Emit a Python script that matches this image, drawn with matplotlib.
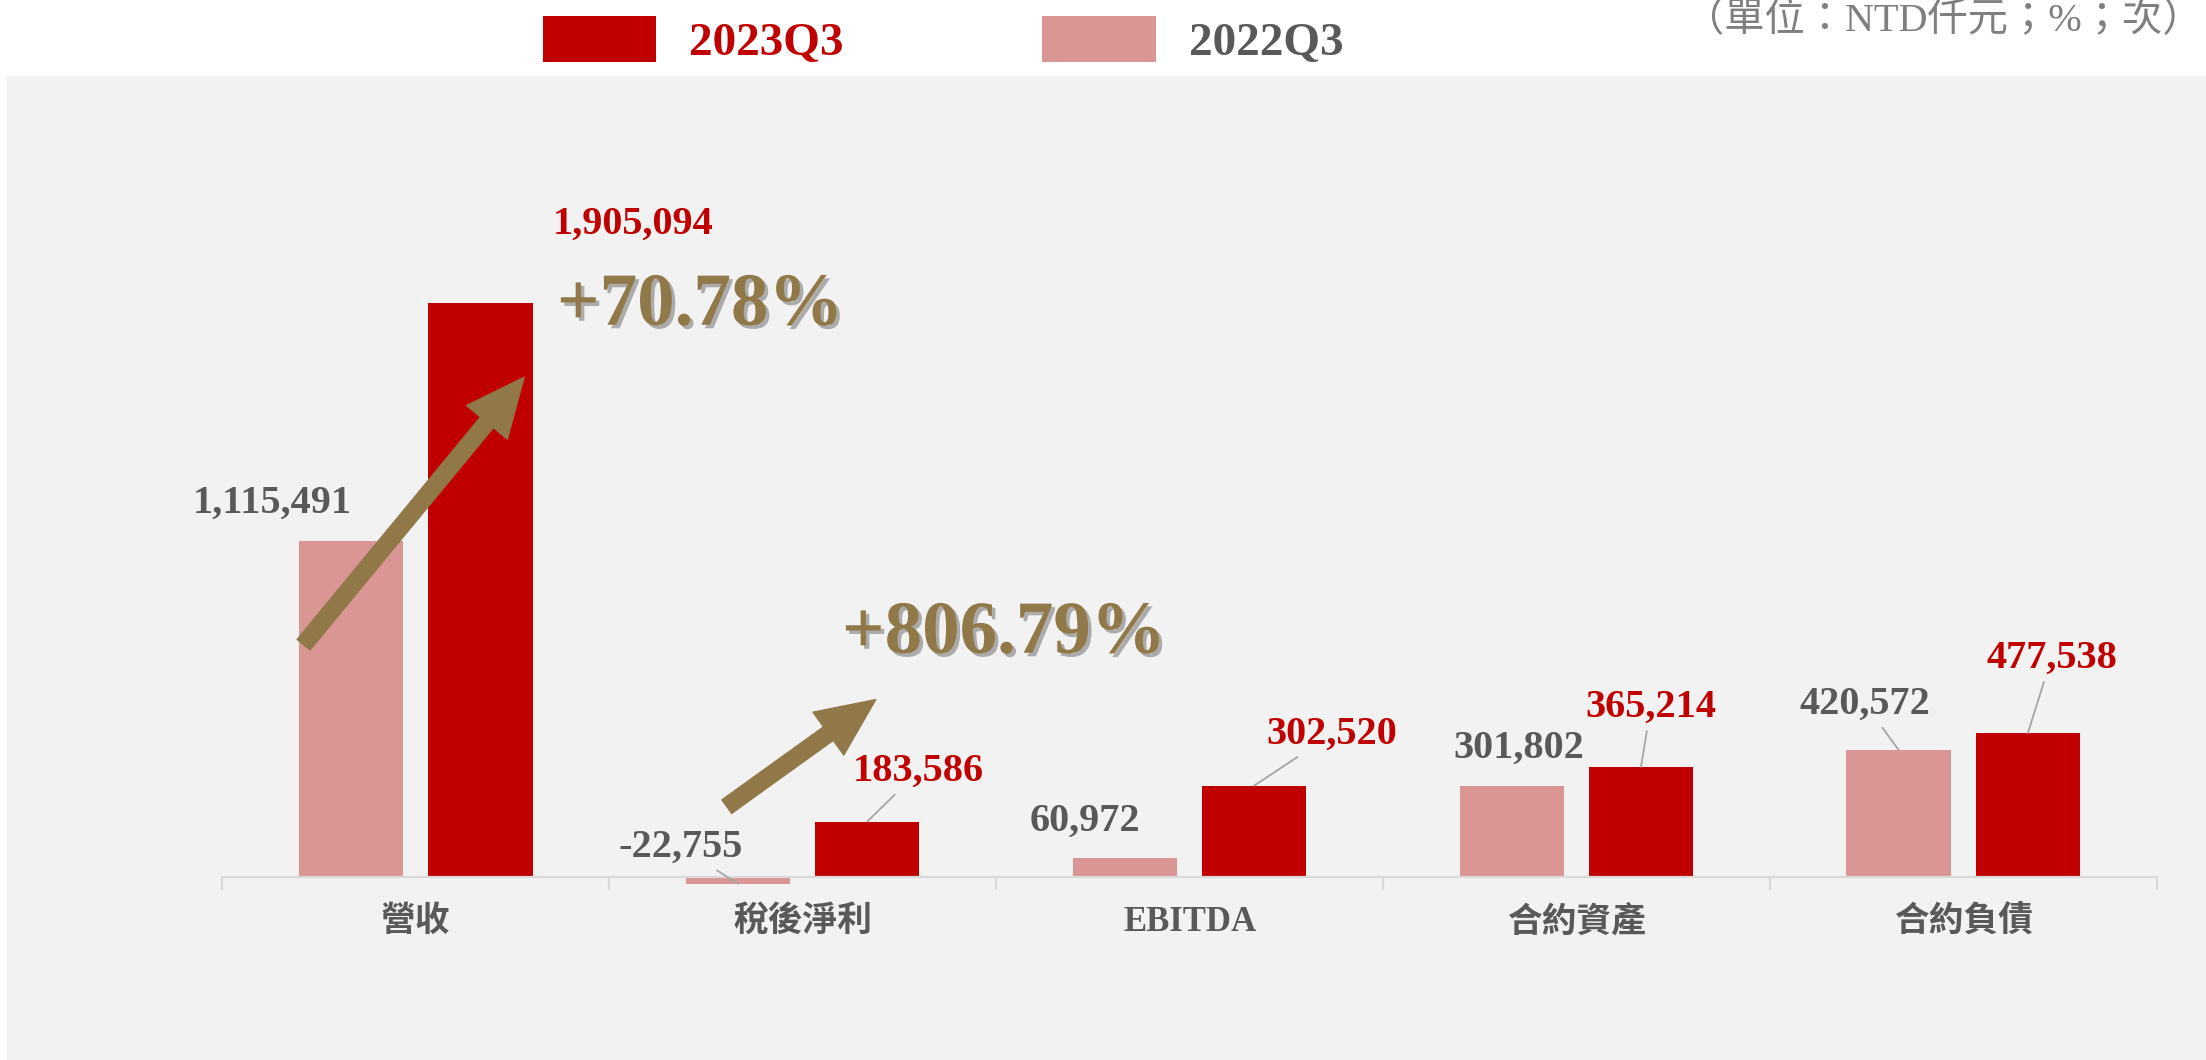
import matplotlib
matplotlib.use('Agg')
import matplotlib.pyplot as plt
import matplotlib.patheffects as pe
from matplotlib.patches import Rectangle
import numpy as np

categories = ['營收', '稅後淨利', 'EBITDA', '合約資產', '合約負債']
q3_2022 = [1115491, -22755, 60972, 301802, 420572]
q3_2023 = [1905094, 183586, 302520, 365214, 477538]
labels_2022 = ['1,115,491', '-22,755', '60,972', '301,802', '420,572']
labels_2023 = ['1,905,094', '183,586', '302,520', '365,214', '477,538']
growth_labels = ['+70.78%', '+806.79%']

# label offsets (points) from bar end, and whether a leader line is drawn
off_2022 = [(-57, 27), (-41, 26), (-29, 27), (5, 27), (-24, 33)]
off_2023 = [(110, 56), (37, 36), (56, 37), (7, 43), (17, 54)]
lead_2022 = [False, True, False, False, True]
lead_2023 = [False, True, True, True, True]

red = '#C00000'
pink = '#D99694'
gray = '#595959'
brown = '#917848'
serif = ['Liberation Serif', 'Noto Sans CJK TC']

fig = plt.figure(figsize=(22.06, 10.6), dpi=100)
fig.patch.set_facecolor('white')
fig.patches.append(Rectangle((7 / 2206, 0), 1, 1 - 76 / 1060, transform=fig.transFigure,
                             facecolor='#F2F2F2', edgecolor='none', zorder=-1))

ax = fig.add_axes([158 / 1568, 53 / 753, 1375 / 1568, 647 / 753])
ax.set_zorder(1)
ax.set_facecolor('none')
x = np.arange(len(categories))
w = 0.27
b22 = ax.bar(x - 0.167, q3_2022, width=w, color=pink, zorder=2)
b23 = ax.bar(x + 0.167, q3_2023, width=w, color=red, zorder=2)

ax.set_xlim(-0.5, 4.5)
ax.set_ylim(-360000, 2661000)
for s in ['left', 'right', 'top']:
    ax.spines[s].set_visible(False)
ax.spines['bottom'].set_position(('data', 0))
ax.spines['bottom'].set_color('#D9D9D9')
ax.spines['bottom'].set_linewidth(1.6)
ax.set_yticks([])
ax.set_xticks(x)
ax.set_xticklabels(categories, fontsize=25, fontweight='bold', color=gray, family=serif)
ax.set_xticks(np.arange(-0.5, 5, 1), minor=True)
ax.tick_params(axis='x', which='major', length=0, pad=21)
ax.tick_params(axis='x', which='minor', length=9.5, width=1.6, color='#D9D9D9', direction='out')

# data labels
for i in range(len(categories)):
    for bars, vals, labs, offs, leads, col in [(b22, q3_2022, labels_2022, off_2022, lead_2022, gray),
                                               (b23, q3_2023, labels_2023, off_2023, lead_2023, red)]:
        bx = bars[i].get_x() + bars[i].get_width() / 2
        ap = dict(arrowstyle='-', color='#A6A6A6', lw=1.3, shrinkA=2, shrinkB=0) if leads[i] else None
        ax.annotate(labs[i], xy=(bx, vals[i]), xytext=offs[i], textcoords='offset points',
                    ha='center', va='center', fontsize=29, fontweight='bold', color=col,
                    family=serif, arrowprops=ap, zorder=4)

# growth arrows
arrow_style = 'simple,head_length=2.1,head_width=1.9,tail_width=0.6'
ax.annotate('', xy=(0.28, 1657000), xytext=(-0.29, 770000),
            arrowprops=dict(arrowstyle=arrow_style, mutation_scale=20, color=brown,
                            shrinkA=0, shrinkB=0), zorder=3)
ax.annotate('', xy=(1.189, 588000), xytext=(0.804, 233000),
            arrowprops=dict(arrowstyle=arrow_style, mutation_scale=20, color=brown,
                            shrinkA=0, shrinkB=0), zorder=3)

shadow = [pe.SimplePatchShadow(offset=(2.5, -2.5), shadow_rgbFace='#555555', alpha=0.45), pe.Normal()]
ax.text(0.735, 1891000, growth_labels[0], ha='center', va='center', fontsize=54,
        fontweight='bold', color=brown, family=serif, path_effects=shadow, zorder=4)
ax.text(1.52, 803000, growth_labels[1], ha='center', va='center', fontsize=54,
        fontweight='bold', color=brown, family=serif, path_effects=shadow, zorder=4)

# legend
leg = fig.legend([b23, b22], ['2023Q3', '2022Q3'], loc='upper left',
                 bbox_to_anchor=(543 / 2206, 1 - 16 / 1060), ncol=2, frameon=False,
                 prop={'family': serif, 'weight': 'bold', 'size': 34},
                 handlelength=2.4, handleheight=1.13, handletextpad=0.7,
                 columnspacing=4.2, borderpad=0, borderaxespad=0)
leg.get_texts()[0].set_color(red)
leg.get_texts()[1].set_color(gray)

fig.text(2203 / 2206, 1 - 21 / 1060, '（單位：NTD仟元；%；次）', ha='right', va='center',
         fontsize=29, color='#7F7F7F', family=serif)

plt.savefig('out.png', dpi=100)
